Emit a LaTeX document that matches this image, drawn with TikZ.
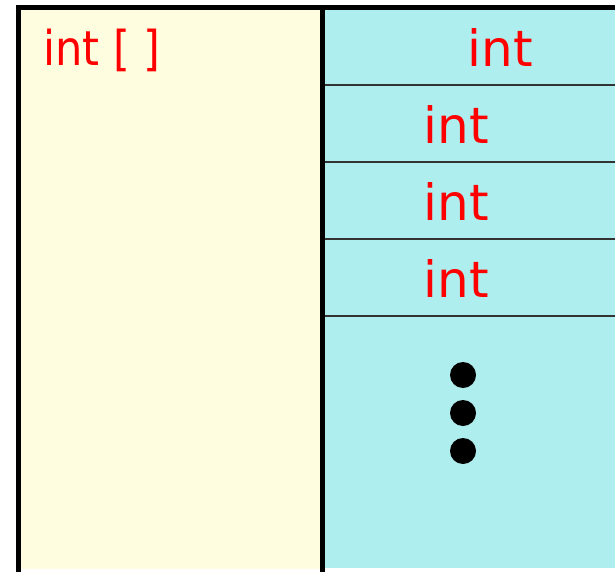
\documentclass[tikz,border=0pt]{standalone}
\usepackage{fontspec}
\setmainfont{DejaVu Sans}
\usetikzlibrary{positioning}
\definecolor{arrfill}{RGB}{255,253,224}
\definecolor{cellfill}{RGB}{175,238,238}

\begin{document}
\begin{tikzpicture}[
    x=1pt, y=-1pt,
    node distance=0pt,
    every node/.style={inner sep=0pt, outer sep=0pt},
    arraybox/.style={fill=arrfill, minimum width=304pt, minimum height=561pt, anchor=north west},
    cell/.style={fill=cellfill, minimum width=293pt, minimum height=77pt},
    rest/.style={fill=cellfill, minimum width=293pt, minimum height=252pt},
    typetext/.style={text=red, font=\fontsize{50}{60}\selectfont},
    arrtext/.style={text=red, font=\fontsize{48}{56}\selectfont},
    border/.style={line width=5pt, line join=miter},
    sep/.style={line width=1.4pt, draw=black!80},
    dot/.style={circle, fill=black, minimum size=26pt}
]
\useasboundingbox (0,0) rectangle (615,572);
\node[arraybox] (arr) at (18,8) {};
\node[cell, anchor=north west] (cell1) at (arr.north east) {};
\node[cell, below=of cell1] (cell2) {};
\node[cell, below=of cell2] (cell3) {};
\node[cell, below=of cell3] (cell4) {};
\node[rest, below=of cell4] (more) {};
\coordinate (topend) at (615,8);
% separators between the cells
\foreach \k in {1,...,4}
    \draw[sep] (cell\k.south west) -- (cell\k.south east);
\draw[border] ([yshift=-3pt]arr.south west) -- (arr.north west) -- (topend);
\draw[border] (arr.north east) -- ([yshift=-3pt]arr.south east);
% texts
\node[arrtext, anchor=base west] (arrtitle) at ([xshift=25pt, yshift=-58pt]arr.north west) {\scalebox{0.9}[1]{int [ ]}};
\node[typetext] (t1) at ([xshift=31.5pt, yshift=-1.5pt]cell1.center) {int};
\foreach \k in {2,3,4}
    \node[typetext] (t\k) at ([xshift=-12pt, yshift=-1.5pt]cell\k.center) {int};
% ellipsis
\foreach \k/\y in {1/375,2/413,3/451}
    \node[dot] (dot\k) at (463,\y) {};
\end{tikzpicture}
\end{document}
